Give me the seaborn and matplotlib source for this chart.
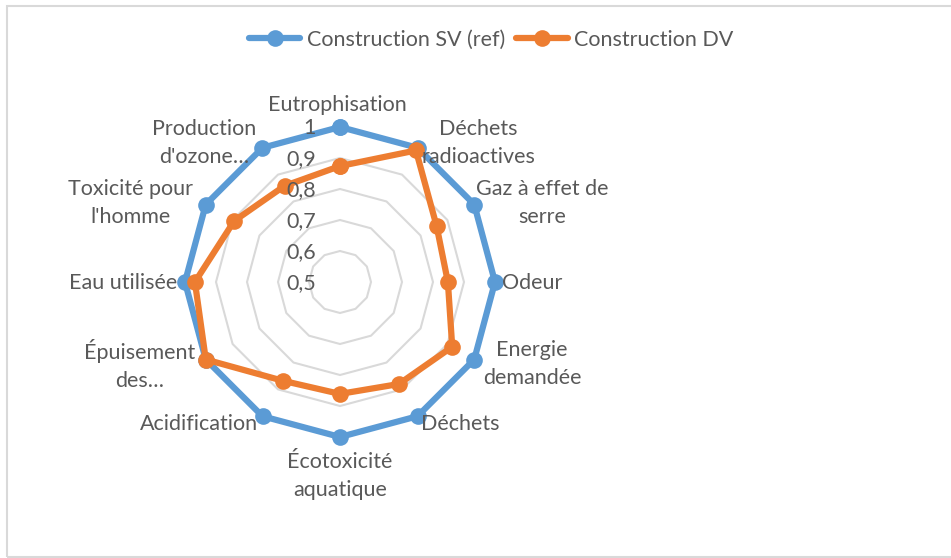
import numpy as np
import pandas as pd
import matplotlib
matplotlib.use("Agg")
import matplotlib.pyplot as plt
from matplotlib.patches import Rectangle
from matplotlib.lines import Line2D
import seaborn as sns

categories = [
    "Eutrophisation", "Déchets\nradioactives", "Gaz à effet de\nserre", "Odeur",
    "Energie\ndemandée", "Déchets", "Écotoxicité\naquatique", "Acidification",
    "Épuisement\ndes…", "Eau utilisée", "Toxicité pour\nl'homme", "Production\nd'ozone…",
]
series_names = ["Construction SV (ref)", "Construction DV"]
sv_ref = [1.0, 1.0, 1.0, 1.0, 1.0, 1.0, 1.0, 1.0, 1.0, 1.0, 1.0, 1.0]
dv = [0.874, 0.99, 0.86, 0.848, 0.918, 0.88, 0.861, 0.868, 1.0, 0.968, 0.894, 0.858]
ticks = [0.5, 0.6, 0.7, 0.8, 0.9, 1.0]
tick_labels = ["0,5", "0,6", "0,7", "0,8", "0,9", "1"]

W, H = 951, 558
DPI = 100
TEXT = "#595959"
GRID = "#D9D9D9"
palette = {"Construction SV (ref)": "#5B9BD5", "Construction DV": "#ED7D31"}

sns.set_theme(style="white")
plt.rcParams["font.family"] = ["Lato", "DejaVu Sans"]
FS = 15.5

n = len(categories)
angles = np.arange(n) * 2 * np.pi / n

# long-format table, each series closed back to its first category
rows = []
for name, vals in zip(series_names, [sv_ref, dv]):
    for k in range(n):
        rows.append({"series": name, "angle": angles[k], "value": vals[k]})
    rows.append({"series": name, "angle": 2 * np.pi, "value": vals[0]})
df = pd.DataFrame(rows)

fig = plt.figure(figsize=(W / DPI, H / DPI), dpi=DPI)
cx, cy, R = 340, 282, 155
ax = fig.add_axes([(cx - R) / W, (H - cy - R) / H, 2 * R / W, 2 * R / H], projection="polar")
ax.set_theta_zero_location("N")
ax.set_theta_direction(-1)
ax.set_ylim(0.5, 1.0)
ax.grid(False)
ax.spines["polar"].set_visible(False)
ax.set_xticks([])
ax.set_yticks([])
ax.patch.set_alpha(0)

# polygonal rings
ring_ang = np.append(angles, 2 * np.pi)
for t in ticks[1:]:
    ax.plot(ring_ang, [t] * (n + 1), color=GRID, lw=1.5, zorder=1, clip_on=False)

sns.lineplot(data=df, x="angle", y="value", hue="series", hue_order=series_names,
             palette=palette, sort=False, estimator=None, marker="o", markersize=12,
             markeredgewidth=0, linewidth=4.5, ax=ax, legend=False, zorder=3)
for ln in ax.lines:
    ln.set_clip_on(False)
ax.set_xlabel("")
ax.set_ylabel("")

# radial tick labels left of the vertical axis
for t, lab in zip(ticks, tick_labels):
    y = cy - (t - 0.5) / 0.5 * R
    fig.text(316 / W, 1 - (y + 1) / H, lab, ha="right", va="center", fontsize=FS, color=TEXT)

# category labels
label_pos = [(337, 105), (478, 143), (542, 203), (532, 283), (532, 364), (460, 424),
             (340, 476), (199, 424), (140, 365), (123, 283), (131, 203), (204, 143)]
for lab, (x, y) in zip(categories, label_pos):
    fig.text(x / W, 1 - y / H, lab, ha="center", va="center", fontsize=FS, color=TEXT,
             linespacing=1.45, multialignment="center")

# legend
handles = [Line2D([], [], color=palette[s], lw=4.5, marker="o", markersize=12,
                  markeredgewidth=0, solid_capstyle="round")
           for s in series_names]
fig.legend(handles, series_names, loc="center", bbox_to_anchor=(491 / W, 1 - 40 / H), ncol=2,
           frameon=False, fontsize=FS, labelcolor=TEXT, handlelength=2.4, handletextpad=0.3,
           columnspacing=0.5)

# chart frame
fig.patches.append(Rectangle((7 / W, 1 - 557 / H), (W + 10) / W, (557 - 6) / H,
                             transform=fig.transFigure, fill=False, edgecolor=GRID, lw=1.5))

fig.savefig("out.png", dpi=DPI)
